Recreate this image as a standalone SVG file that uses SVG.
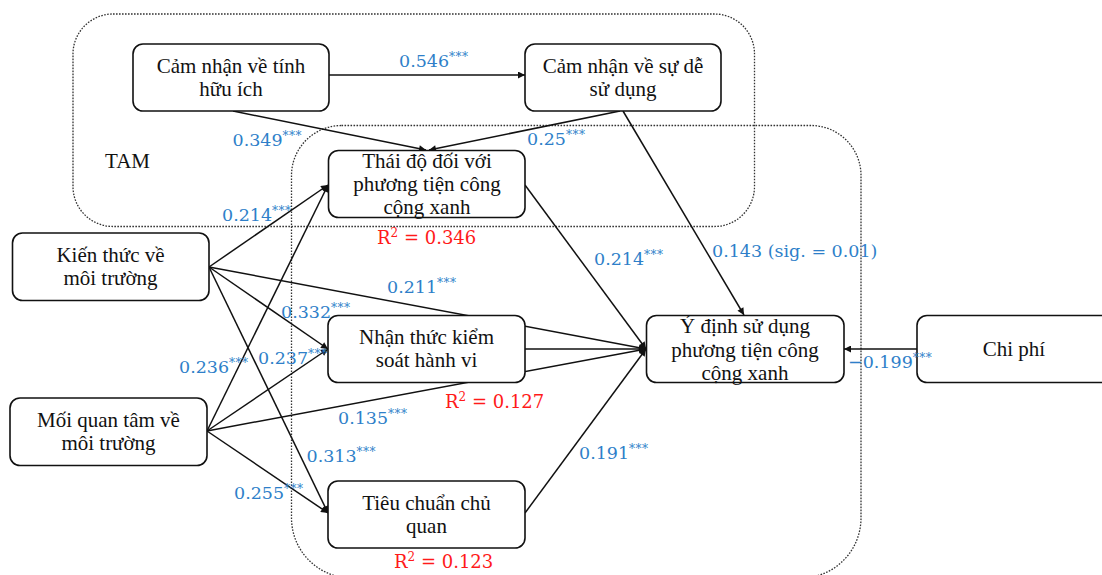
<svg xmlns="http://www.w3.org/2000/svg" width="1102" height="575" viewBox="0 0 1102 575">
<defs>
<style>
.bg{fill:#ffffff}
.grp{fill:none;stroke:#333;stroke-width:1.3;stroke-dasharray:1.6 1.4}
.box{fill:#ffffff;stroke:#111;stroke-width:1.6}
.nt{font-family:"Liberation Serif","Times New Roman",serif;font-size:21px;fill:#111;text-anchor:middle}
.tam{font-family:"Liberation Serif","Times New Roman",serif;font-size:21px;fill:#111}
.lbl{font-family:"DejaVu Serif","Liberation Serif",serif;font-size:17.5px;fill:#2E7FC9}
.st{font-size:12px;letter-spacing:0.5px}
.r2{font-family:"DejaVu Serif","Liberation Serif",serif;font-size:18px;fill:#FF1A1A}
.sup{font-size:12px}
.ln{fill:none;stroke:#111;stroke-width:1.5;marker-end:url(#ah)}
</style>
<marker id="ah" viewBox="0 0 10 10" refX="10" refY="5" markerWidth="9" markerHeight="7" markerUnits="userSpaceOnUse" orient="auto">
<path d="M0,0 L10,5 L0,10 z" fill="#111"/>
</marker>
</defs>
<rect class="bg" x="0" y="0" width="1102" height="575"/>

<g id="groups">
<rect id="tam-group" class="grp" x="73" y="14" width="681.5" height="212.5" rx="40" ry="40"/>
<path id="tpb-group" class="grp" d="M341.5,125.5 H811 A50,50 0 0 1 861,175.5 V518 A60,60 0 0 1 801,578 H351.5 A60,60 0 0 1 291.5,518 V175.5 A50,50 0 0 1 341.5,125.5 Z"/>
<text class="tam" x="105" y="168">TAM</text>
</g>

<g id="connectors">
<line class="ln" x1="329" y1="75" x2="525" y2="75"/>
<line class="ln" x1="233" y1="111" x2="426" y2="150"/>
<line class="ln" x1="620" y1="111" x2="429" y2="150"/>
<line class="ln" x1="623" y1="111" x2="744" y2="315"/>
<line class="ln" x1="209" y1="267" x2="328" y2="185"/>
<line class="ln" x1="209" y1="267" x2="328" y2="349"/>
<line class="ln" x1="209" y1="267" x2="646" y2="349"/>
<line class="ln" x1="209" y1="267" x2="328" y2="513"/>
<line class="ln" x1="207" y1="431" x2="328" y2="185"/>
<line class="ln" x1="207" y1="431" x2="328" y2="349"/>
<line class="ln" x1="207" y1="431" x2="646" y2="349"/>
<line class="ln" x1="207" y1="431" x2="328" y2="513"/>
<line class="ln" x1="525" y1="185" x2="646" y2="349"/>
<line class="ln" x1="525" y1="349" x2="646" y2="349"/>
<line class="ln" x1="525" y1="513" x2="646" y2="349"/>
<line class="ln" x1="917" y1="349" x2="844" y2="349"/>
</g>

<g id="node-huu-ich">
<rect class="box" x="133" y="44" width="196" height="67" rx="10" ry="10"/>
<text class="nt" x="231" y="73">Cảm nhận về tính</text>
<text class="nt" x="231" y="96">hữu ích</text>
</g>
<g id="node-de-su-dung">
<rect class="box" x="525" y="44" width="196" height="67" rx="10" ry="10"/>
<text class="nt" x="623" y="73">Cảm nhận về sự dễ</text>
<text class="nt" x="623" y="96">sử dụng</text>
</g>
<g id="node-thai-do">
<rect class="box" x="328.5" y="150.5" width="196.5" height="67" rx="10" ry="10"/>
<text class="nt" x="427" y="168">Thái độ đối với</text>
<text class="nt" x="427" y="191">phương tiện công</text>
<text class="nt" x="427" y="214">cộng xanh</text>
</g>
<g id="node-kien-thuc">
<rect class="box" x="12.5" y="233" width="196.5" height="67.5" rx="10" ry="10"/>
<text class="nt" x="110.5" y="262">Kiến thức về</text>
<text class="nt" x="110.5" y="285">môi trường</text>
</g>
<g id="node-nhan-thuc">
<rect class="box" x="328" y="315.5" width="197" height="67" rx="10" ry="10"/>
<text class="nt" x="426.5" y="344">Nhận thức kiểm</text>
<text class="nt" x="426.5" y="367">soát hành vi</text>
</g>
<g id="node-y-dinh">
<rect class="box" x="646.5" y="315.5" width="197.5" height="67" rx="10" ry="10"/>
<text class="nt" x="745" y="333">Ý định sử dụng</text>
<text class="nt" x="745" y="356.5">phương tiện công</text>
<text class="nt" x="745" y="379.5">cộng xanh</text>
</g>
<g id="node-chi-phi">
<rect class="box" x="917" y="315.5" width="194" height="67" rx="10" ry="10"/>
<text class="nt" x="1014" y="356">Chi phí</text>
</g>
<g id="node-moi-quan-tam">
<rect class="box" x="10" y="398" width="197" height="67.5" rx="10" ry="10"/>
<text class="nt" x="108.5" y="427">Mối quan tâm về</text>
<text class="nt" x="108.5" y="450">môi trường</text>
</g>
<g id="node-tieu-chuan">
<rect class="box" x="328" y="481" width="197" height="67" rx="10" ry="10"/>
<text class="nt" x="426.5" y="509.5">Tiêu chuẩn chủ</text>
<text class="nt" x="426.5" y="532.5">quan</text>
</g>

<g id="labels">
<text class="lbl" x="399" y="67">0.546<tspan class="st" dy="-6">***</tspan></text>
<text class="lbl" x="232.5" y="146">0.349<tspan class="st" dy="-6">***</tspan></text>
<text class="lbl" x="527" y="145">0.25<tspan class="st" dy="-6">***</tspan></text>
<text class="lbl" x="712" y="257">0.143 (sig. = 0.01)</text>
<text class="lbl" x="222" y="221">0.214<tspan class="st" dy="-6">***</tspan></text>
<text class="lbl" x="594" y="265">0.214<tspan class="st" dy="-6">***</tspan></text>
<text class="lbl" x="387" y="293">0.211<tspan class="st" dy="-6">***</tspan></text>
<text class="lbl" x="281" y="317.5">0.332<tspan class="st" dy="-6">***</tspan></text>
<text class="lbl" x="258" y="364">0.237<tspan class="st" dy="-6">***</tspan></text>
<text class="lbl" x="179" y="373">0.236<tspan class="st" dy="-6">***</tspan></text>
<text class="lbl" x="338" y="424">0.135<tspan class="st" dy="-6">***</tspan></text>
<text class="lbl" x="306.5" y="462">0.313<tspan class="st" dy="-6">***</tspan></text>
<text class="lbl" x="234" y="499">0.255<tspan class="st" dy="-6">***</tspan></text>
<text class="lbl" x="579" y="459">0.191<tspan class="st" dy="-6">***</tspan></text>
<text class="lbl" x="848" y="368">−0.199<tspan class="st" dy="-6">***</tspan></text>
<text class="r2" x="377" y="244">R<tspan class="sup" dy="-7">2</tspan><tspan dy="7"> = 0.346</tspan></text>
<text class="r2" x="445" y="408">R<tspan class="sup" dy="-7">2</tspan><tspan dy="7"> = 0.127</tspan></text>
<text class="r2" x="394" y="568">R<tspan class="sup" dy="-7">2</tspan><tspan dy="7"> = 0.123</tspan></text>
</g>
</svg>
